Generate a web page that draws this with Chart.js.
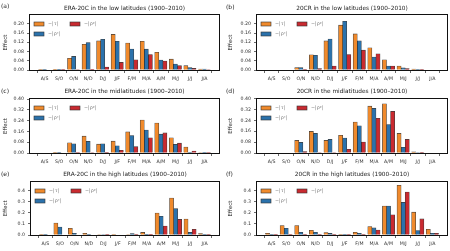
<!DOCTYPE html>
<html>
<head>
<meta charset="utf-8">
<script src="https://cdn.jsdelivr.net/npm/chart.js@4.4.0/dist/chart.umd.min.js"></script>
<style>
  html, body { margin: 0; padding: 0; background: #fff; }
  body { width: 450px; height: 251px; position: relative; overflow: hidden; font-family: 'DejaVu Sans', sans-serif; }
  canvas { position: absolute; }
  .tag { position: absolute; font-size: 6px; color: #222; white-space: nowrap; transform: translateY(-50%); }
  .ttl { position: absolute; font-size: 5.8px; color: #222; white-space: nowrap; transform: translate(-50%, -50%); }
</style>
</head>
<body>
<script>
// --- DATA ---
const months = ['A/S','S/O','O/N','N/D','D/J','J/F','F/M','M/A','A/M','M/J','J/J','J/A'];
const seriesLabels = ['\u2212|\u03c4|', '\u2212|\u03c1\u02e2|', '\u2212|\u03c1\u1d56|'];

// (a) ERA-20C low latitudes
const eraLowTau  = [0.001,0.003,0.051,0.111,0.126,0.154,0.117,0.124,0.077,0.047,0.019,0.004];
const eraLowRhoS = [0.001,0.003,0.059,0.119,0.133,0.124,0.091,0.090,0.043,0.026,0.010,0.004];
const eraLowRhoP = [0.000,0.001,0.002,0.003,0.013,0.033,0.044,0.067,0.039,0.019,0.007,0.002];
// (b) 20CR low latitudes
const crLowTau  = [0.000,0.000,0.010,0.066,0.126,0.194,0.156,0.096,0.044,0.017,0.004,0.000];
const crLowRhoS = [0.000,0.000,0.010,0.064,0.134,0.211,0.126,0.056,0.017,0.009,0.001,0.000];
const crLowRhoP = [0.000,0.000,0.001,0.006,0.017,0.067,0.086,0.070,0.017,0.006,0.001,0.000];
// (c) ERA-20C midlatitudes
const eraMidTau  = [0.000,0.005,0.076,0.125,0.066,0.088,0.157,0.245,0.223,0.113,0.044,0.003];
const eraMidRhoS = [0.000,0.005,0.069,0.086,0.069,0.054,0.130,0.171,0.140,0.064,0.002,0.002];
const eraMidRhoP = [0.000,0.000,0.001,0.003,0.002,0.020,0.047,0.113,0.149,0.073,0.015,0.001];
// (d) 20CR midlatitudes
const crMidTau  = [0.000,0.000,0.093,0.159,0.093,0.130,0.228,0.345,0.362,0.144,0.008,0.000];
const crMidRhoS = [0.000,0.000,0.078,0.144,0.100,0.110,0.200,0.328,0.210,0.042,0.003,0.000];
const crMidRhoP = [0.000,0.000,0.010,0.003,0.003,0.027,0.081,0.255,0.306,0.100,0.002,0.000];
// (e) ERA-20C high latitudes
const eraHighTau  = [0.002,0.109,0.061,0.015,0.004,0.001,0.004,0.024,0.200,0.336,0.145,0.012];
const eraHighRhoS = [0.002,0.073,0.015,0.002,0.004,0.000,0.014,0.007,0.170,0.239,0.024,0.002];
const eraHighRhoP = [0.000,0.000,0.000,0.000,0.002,0.000,0.003,0.007,0.082,0.142,0.052,0.002];
// (f) 20CR high latitudes
const crHighTau  = [0.015,0.085,0.085,0.043,0.022,0.002,0.025,0.076,0.261,0.448,0.206,0.052];
const crHighRhoS = [0.005,0.060,0.025,0.025,0.014,0.003,0.015,0.064,0.261,0.294,0.040,0.015];
const crHighRhoP = [0.002,0.003,0.003,0.002,0.003,0.003,0.006,0.045,0.182,0.388,0.145,0.015];

// --- STYLE ---
const barColors = ['#F08A2C', '#2B72AC', '#C92A30'];
const barOffsets = [-0.28, 0, 0.28];
const FONT = "'DejaVu Sans', sans-serif";

// panel layout: canvas box (cx,cy,cw,ch) and plot rectangle (L,R,T,B) in page pixels
const panels = [
  { tag: '(a)', title: 'ERA-20C in the low latitudes (1900\u20132010)', series: [eraLowTau, eraLowRhoS, eraLowRhoP],
    cx: 0, cy: 0, cw: 225, ch: 84, L: 30, R: 219, T: 15, B: 70, ymax: 0.238, step: 0.04, dec: 2, tagY: 5, titleY: 7.7 },
  { tag: '(b)', title: '20CR in the low latitudes (1900\u20132010)', series: [crLowTau, crLowRhoS, crLowRhoP],
    cx: 225, cy: 0, cw: 225, ch: 84, L: 257, R: 447, T: 15, B: 70, ymax: 0.238, step: 0.04, dec: 2, tagY: 5.5, titleY: 8.2 },
  { tag: '(c)', title: 'ERA-20C in the midlatitudes (1900\u20132010)', series: [eraMidTau, eraMidRhoS, eraMidRhoP],
    cx: 0, cy: 84, cw: 225, ch: 84, L: 30, R: 219, T: 99, B: 153, ymax: 0.401, step: 0.08, dec: 2, tagY: 89.5, titleY: 90.8 },
  { tag: '(d)', title: '20CR in the midlatitudes (1900\u20132010)', series: [crMidTau, crMidRhoS, crMidRhoP],
    cx: 225, cy: 84, cw: 225, ch: 84, L: 257, R: 447, T: 98.5, B: 153, ymax: 0.401, step: 0.08, dec: 2, tagY: 89.5, titleY: 90.8 },
  { tag: '(e)', title: 'ERA-20C in the high latitudes (1900\u20132010)', series: [eraHighTau, eraHighRhoS, eraHighRhoP],
    cx: 0, cy: 168, cw: 225, ch: 83, L: 31, R: 219, T: 181.5, B: 235, ymax: 0.486, step: 0.1, dec: 1, tagY: 173.3, titleY: 174 },
  { tag: '(f)', title: '20CR in the high latitudes (1900\u20132010)', series: [crHighTau, crHighRhoS, crHighRhoP],
    cx: 225, cy: 168, cw: 225, ch: 83, L: 257, R: 447, T: 182, B: 235, ymax: 0.478, step: 0.1, dec: 1, tagY: 172.7, titleY: 174 }
];

// frame around the axes + legend inside top-left corner
const framePlugin = {
  id: 'frame',
  afterDatasetsDraw(chart) {
    const { ctx, chartArea: a } = chart;
    ctx.save();
    ctx.strokeStyle = '#111';
    ctx.lineWidth = 1;
    ctx.strokeRect(Math.round(a.left) - 0.5, Math.round(a.top) - 0.5,
      Math.round(a.right) - Math.round(a.left) + 1, Math.round(a.bottom) - Math.round(a.top) + 1);

    const items = [
      { k: 0, dx: 4, dy: 7 },
      { k: 2, dx: 40, dy: 7 },
      { k: 1, dx: 4, dy: 17 }
    ];
    ctx.font = '4.8px ' + FONT;
    ctx.textBaseline = 'middle';
    items.forEach(it => {
      const x = Math.round(a.left) + it.dx, y = Math.round(a.top) + it.dy;
      ctx.fillStyle = barColors[it.k];
      ctx.fillRect(x, y, 10, 4);
      ctx.strokeStyle = '#333';
      ctx.lineWidth = 0.6;
      ctx.strokeRect(x, y, 10, 4);
      ctx.fillStyle = '#777';
      ctx.fillText(seriesLabels[it.k], x + 14, y + 2);
    });
    ctx.restore();
  }
};

function addText(cls, text, x, y) {
  const el = document.createElement('div');
  el.className = cls;
  el.textContent = text;
  el.style.left = x + 'px';
  el.style.top = y + 'px';
  document.body.appendChild(el);
}

function buildPanel(p) {
  const canvas = document.createElement('canvas');
  canvas.width = p.cw; canvas.height = p.ch;
  canvas.style.left = p.cx + 'px'; canvas.style.top = p.cy + 'px';
  canvas.style.width = p.cw + 'px'; canvas.style.height = p.ch + 'px';
  document.body.appendChild(canvas);

  addText('tag', p.tag, p.cx + 1, p.tagY);
  addText('ttl', p.title, (p.L + p.R) / 2, p.titleY);

  const tickFont = { size: 4.7, family: FONT };
  new Chart(canvas, {
    type: 'bar',
    data: {
      datasets: p.series.map((vals, k) => ({
        label: seriesLabels[k],
        data: vals.map((v, i) => ({ x: i + barOffsets[k], y: v })),
        backgroundColor: barColors[k],
        borderColor: 'rgba(25,25,25,0.85)',
        borderWidth: 0.6,
        grouped: false,
        barPercentage: 1,
        categoryPercentage: 1
      }))
    },
    options: {
      responsive: false, animation: false, events: [],
      layout: { padding: { top: p.T - p.cy, right: p.cx + p.cw - p.R, left: 0, bottom: 0 } },
      plugins: { legend: { display: false }, tooltip: { enabled: false } },
      scales: {
        x: {
          type: 'linear', min: -1, max: 12, offset: false,
          afterBuildTicks: s => { s.ticks = months.map((m, i) => ({ value: i })); },
          afterFit: s => { s.height = p.cy + p.ch - p.B; },
          ticks: { callback: v => months[v] ?? '', font: tickFont, color: '#333', padding: 3, maxRotation: 0, autoSkip: false },
          grid: { drawOnChartArea: false, tickLength: 3, color: '#444', lineWidth: 0.8 },
          border: { display: false }
        },
        y: {
          min: 0, max: p.ymax,
          afterFit: s => { s.width = p.L - p.cx; },
          ticks: { stepSize: p.step, includeBounds: false, callback: v => v.toFixed(p.dec), font: tickFont, color: '#333', padding: 3 },
          grid: { drawOnChartArea: false, tickLength: 3, color: '#444', lineWidth: 0.8 },
          border: { display: false },
          title: { display: true, text: 'Effect', font: { size: 5.5, family: FONT }, color: '#222', padding: { top: 2, bottom: 0 } }
        }
      }
    },
    plugins: [framePlugin]
  });
}

panels.forEach(buildPanel);
</script>
</body>
</html>
